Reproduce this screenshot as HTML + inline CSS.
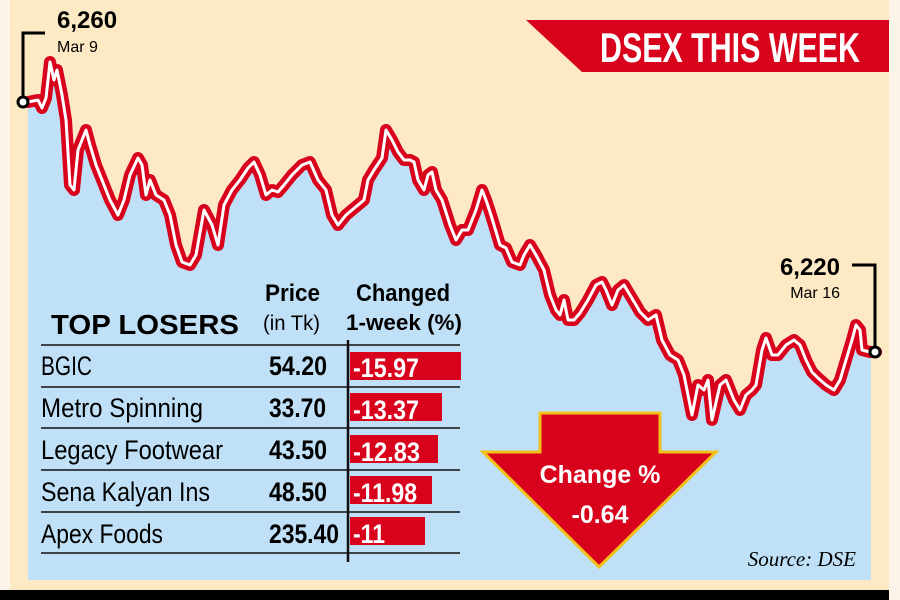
<!DOCTYPE html>
<html><head><meta charset="utf-8"><style>
html,body{margin:0;padding:0;background:#fdf3e6;}
svg{display:block}
</style></head><body>
<svg width="900" height="600" viewBox="0 0 900 600">
<rect x="0" y="0" width="900" height="600" fill="#fdf4e9"/>
<rect x="10" y="0" width="879" height="590" fill="#fde9c3"/>
<rect x="0" y="590" width="889" height="10" fill="#000"/>
<defs>
<clipPath id="c"><rect x="28" y="0" width="843" height="580"/></clipPath>
</defs>
<g clip-path="url(#c)">
<path fill="#bfe0f6" d="M28,102 L38,100 42,108 46,98 50,62 54,80 57,70 62,95 66,120 70,185 74,190 78,150 82,140 86,130 90,145 96,165 102,180 110,200 118,215 124,200 130,175 138,158 142,165 146,195 150,180 156,195 164,200 170,215 176,245 182,262 190,265 196,255 204,210 212,225 218,245 224,205 232,190 240,180 248,168 254,162 260,175 266,195 272,190 278,192 284,185 292,175 302,165 310,162 318,180 326,190 332,215 338,225 346,215 352,210 358,205 364,200 368,180 374,170 382,158 386,130 392,140 398,152 404,160 410,160 414,162 418,180 424,190 428,175 432,172 436,190 442,200 450,225 456,240 462,230 468,230 472,220 476,210 482,190 486,200 490,212 494,225 500,245 506,248 512,262 520,265 524,255 530,245 536,255 544,270 550,295 556,310 560,315 564,300 568,320 574,320 580,313 588,300 596,285 602,282 606,290 612,305 618,290 624,285 630,295 636,305 640,312 648,320 656,315 662,340 670,355 678,360 684,375 688,395 692,415 698,385 704,390 708,380 712,420 720,385 726,380 734,400 740,410 746,395 752,390 756,385 762,350 766,338 772,355 778,355 786,345 794,340 800,345 806,360 812,372 818,378 826,385 834,390 840,380 846,360 852,340 856,325 860,330 862,350 870,352 876,352 L876,580 L28,580 Z"/>
</g>
<g fill="none" stroke-linejoin="round" stroke-linecap="round">
<path stroke="#d9021c" stroke-width="12" d="M28,102 L38,100 42,108 46,98 50,62 54,80 57,70 62,95 66,120 70,185 74,190 78,150 82,140 86,130 90,145 96,165 102,180 110,200 118,215 124,200 130,175 138,158 142,165 146,195 150,180 156,195 164,200 170,215 176,245 182,262 190,265 196,255 204,210 212,225 218,245 224,205 232,190 240,180 248,168 254,162 260,175 266,195 272,190 278,192 284,185 292,175 302,165 310,162 318,180 326,190 332,215 338,225 346,215 352,210 358,205 364,200 368,180 374,170 382,158 386,130 392,140 398,152 404,160 410,160 414,162 418,180 424,190 428,175 432,172 436,190 442,200 450,225 456,240 462,230 468,230 472,220 476,210 482,190 486,200 490,212 494,225 500,245 506,248 512,262 520,265 524,255 530,245 536,255 544,270 550,295 556,310 560,315 564,300 568,320 574,320 580,313 588,300 596,285 602,282 606,290 612,305 618,290 624,285 630,295 636,305 640,312 648,320 656,315 662,340 670,355 678,360 684,375 688,395 692,415 698,385 704,390 708,380 712,420 720,385 726,380 734,400 740,410 746,395 752,390 756,385 762,350 766,338 772,355 778,355 786,345 794,340 800,345 806,360 812,372 818,378 826,385 834,390 840,380 846,360 852,340 856,325 860,330 862,350 870,352 876,352"/>
<path stroke="#ffffff" stroke-width="3" d="M28,102 L38,100 42,108 46,98 50,62 54,80 57,70 62,95 66,120 70,185 74,190 78,150 82,140 86,130 90,145 96,165 102,180 110,200 118,215 124,200 130,175 138,158 142,165 146,195 150,180 156,195 164,200 170,215 176,245 182,262 190,265 196,255 204,210 212,225 218,245 224,205 232,190 240,180 248,168 254,162 260,175 266,195 272,190 278,192 284,185 292,175 302,165 310,162 318,180 326,190 332,215 338,225 346,215 352,210 358,205 364,200 368,180 374,170 382,158 386,130 392,140 398,152 404,160 410,160 414,162 418,180 424,190 428,175 432,172 436,190 442,200 450,225 456,240 462,230 468,230 472,220 476,210 482,190 486,200 490,212 494,225 500,245 506,248 512,262 520,265 524,255 530,245 536,255 544,270 550,295 556,310 560,315 564,300 568,320 574,320 580,313 588,300 596,285 602,282 606,290 612,305 618,290 624,285 630,295 636,305 640,312 648,320 656,315 662,340 670,355 678,360 684,375 688,395 692,415 698,385 704,390 708,380 712,420 720,385 726,380 734,400 740,410 746,395 752,390 756,385 762,350 766,338 772,355 778,355 786,345 794,340 800,345 806,360 812,372 818,378 826,385 834,390 840,380 846,360 852,340 856,325 860,330 862,350 870,352 876,352"/>
</g>
<!-- markers -->
<path d="M23,98 V33 H45" stroke="#000" stroke-width="3" fill="none"/>
<circle cx="23" cy="102" r="5" fill="#fff" stroke="#000" stroke-width="3"/>
<path d="M875,347 V265 H852" stroke="#000" stroke-width="3" fill="none"/>
<circle cx="875" cy="352" r="5" fill="#fff" stroke="#000" stroke-width="3"/>
<text x="57" y="28" font-family="Liberation Sans" font-weight="bold" font-size="24" fill="#000">6,260</text>
<text x="57" y="52" font-family="Liberation Sans" font-size="16" fill="#000">Mar 9</text>
<text x="840" y="275" text-anchor="end" font-family="Liberation Sans" font-weight="bold" font-size="24" fill="#000">6,220</text>
<text x="840" y="298" text-anchor="end" font-family="Liberation Sans" font-size="16" fill="#000">Mar 16</text>
<!-- banner -->
<polygon points="526,20 889,20 889,72 582,72" fill="#d9021c"/>
<text x="600" y="62" font-family="Liberation Sans" font-weight="bold" font-size="42" fill="#fff" textLength="260" lengthAdjust="spacingAndGlyphs">DSEX THIS WEEK</text>
<!-- table -->
<g font-family="Liberation Sans" fill="#000">
<text x="51" y="334" font-weight="bold" font-size="28" textLength="188" lengthAdjust="spacingAndGlyphs">TOP LOSERS</text>
<text x="265" y="301" font-weight="bold" font-size="24" textLength="55" lengthAdjust="spacingAndGlyphs">Price</text>
<text x="263" y="330" font-size="21" textLength="57" lengthAdjust="spacingAndGlyphs">(in Tk)</text>
<text x="356" y="301" font-weight="bold" font-size="24" textLength="94" lengthAdjust="spacingAndGlyphs">Changed</text>
<text x="346" y="330" font-weight="bold" font-size="22" textLength="116" lengthAdjust="spacingAndGlyphs">1-week (%)</text>
</g>
<g stroke="#111" stroke-width="1.5">
<line x1="41" y1="345" x2="460" y2="345"/><line x1="41" y1="387" x2="460" y2="387"/><line x1="41" y1="428" x2="460" y2="428"/><line x1="41" y1="470" x2="460" y2="470"/><line x1="41" y1="512" x2="460" y2="512"/><line x1="41" y1="553" x2="460" y2="553"/>
<line x1="348" y1="340" x2="348" y2="562" stroke-width="2.5"/>
</g>
<g fill="#d9021c">
<rect x="350" y="352" width="111" height="28"/><rect x="350" y="393" width="92" height="28"/><rect x="350" y="435" width="88" height="28"/><rect x="350" y="476" width="82" height="28"/><rect x="350" y="517" width="75" height="28"/>
</g>
<g font-family="Liberation Sans" font-size="27" fill="#000" lengthAdjust="spacingAndGlyphs">
<text x="41" y="375" textLength="51" lengthAdjust="spacingAndGlyphs">BGIC</text>
<text x="41" y="417" textLength="162" lengthAdjust="spacingAndGlyphs">Metro Spinning</text>
<text x="41" y="459" textLength="182" lengthAdjust="spacingAndGlyphs">Legacy Footwear</text>
<text x="41" y="501" textLength="169" lengthAdjust="spacingAndGlyphs">Sena Kalyan Ins</text>
<text x="41" y="543" textLength="122" lengthAdjust="spacingAndGlyphs">Apex Foods</text>
</g>
<g font-family="Liberation Sans" font-size="27" font-weight="bold" fill="#000">
<text x="269" y="375" textLength="58" lengthAdjust="spacingAndGlyphs">54.20</text>
<text x="269" y="417" textLength="57" lengthAdjust="spacingAndGlyphs">33.70</text>
<text x="269" y="459" textLength="58" lengthAdjust="spacingAndGlyphs">43.50</text>
<text x="269" y="501" textLength="58" lengthAdjust="spacingAndGlyphs">48.50</text>
<text x="269" y="543" textLength="70" lengthAdjust="spacingAndGlyphs">235.40</text>
</g>
<g font-family="Liberation Sans" font-size="27" font-weight="bold" fill="#fff">
<text x="353" y="377" textLength="66" lengthAdjust="spacingAndGlyphs">-15.97</text>
<text x="353" y="419" textLength="66" lengthAdjust="spacingAndGlyphs">-13.37</text>
<text x="353" y="461" textLength="67" lengthAdjust="spacingAndGlyphs">-12.83</text>
<text x="353" y="502" textLength="64" lengthAdjust="spacingAndGlyphs">-11.98</text>
<text x="353" y="543" textLength="32" lengthAdjust="spacingAndGlyphs">-11</text>
</g>
<!-- arrow -->
<polygon points="540,413 660,413 660,452 716,452 599,567 483,452 540,452" fill="#d9021c" stroke="#f2c21b" stroke-width="3" stroke-linejoin="miter"/>
<text x="600" y="483" text-anchor="middle" font-family="Liberation Sans" font-weight="bold" font-size="25" fill="#fff">Change %</text>
<text x="600" y="523" text-anchor="middle" font-family="Liberation Sans" font-weight="bold" font-size="25" fill="#fff">-0.64</text>
<text x="856" y="566" text-anchor="end" font-family="Liberation Serif" font-style="italic" font-size="21" fill="#000">Source: DSE</text>
</svg>
</body></html>
